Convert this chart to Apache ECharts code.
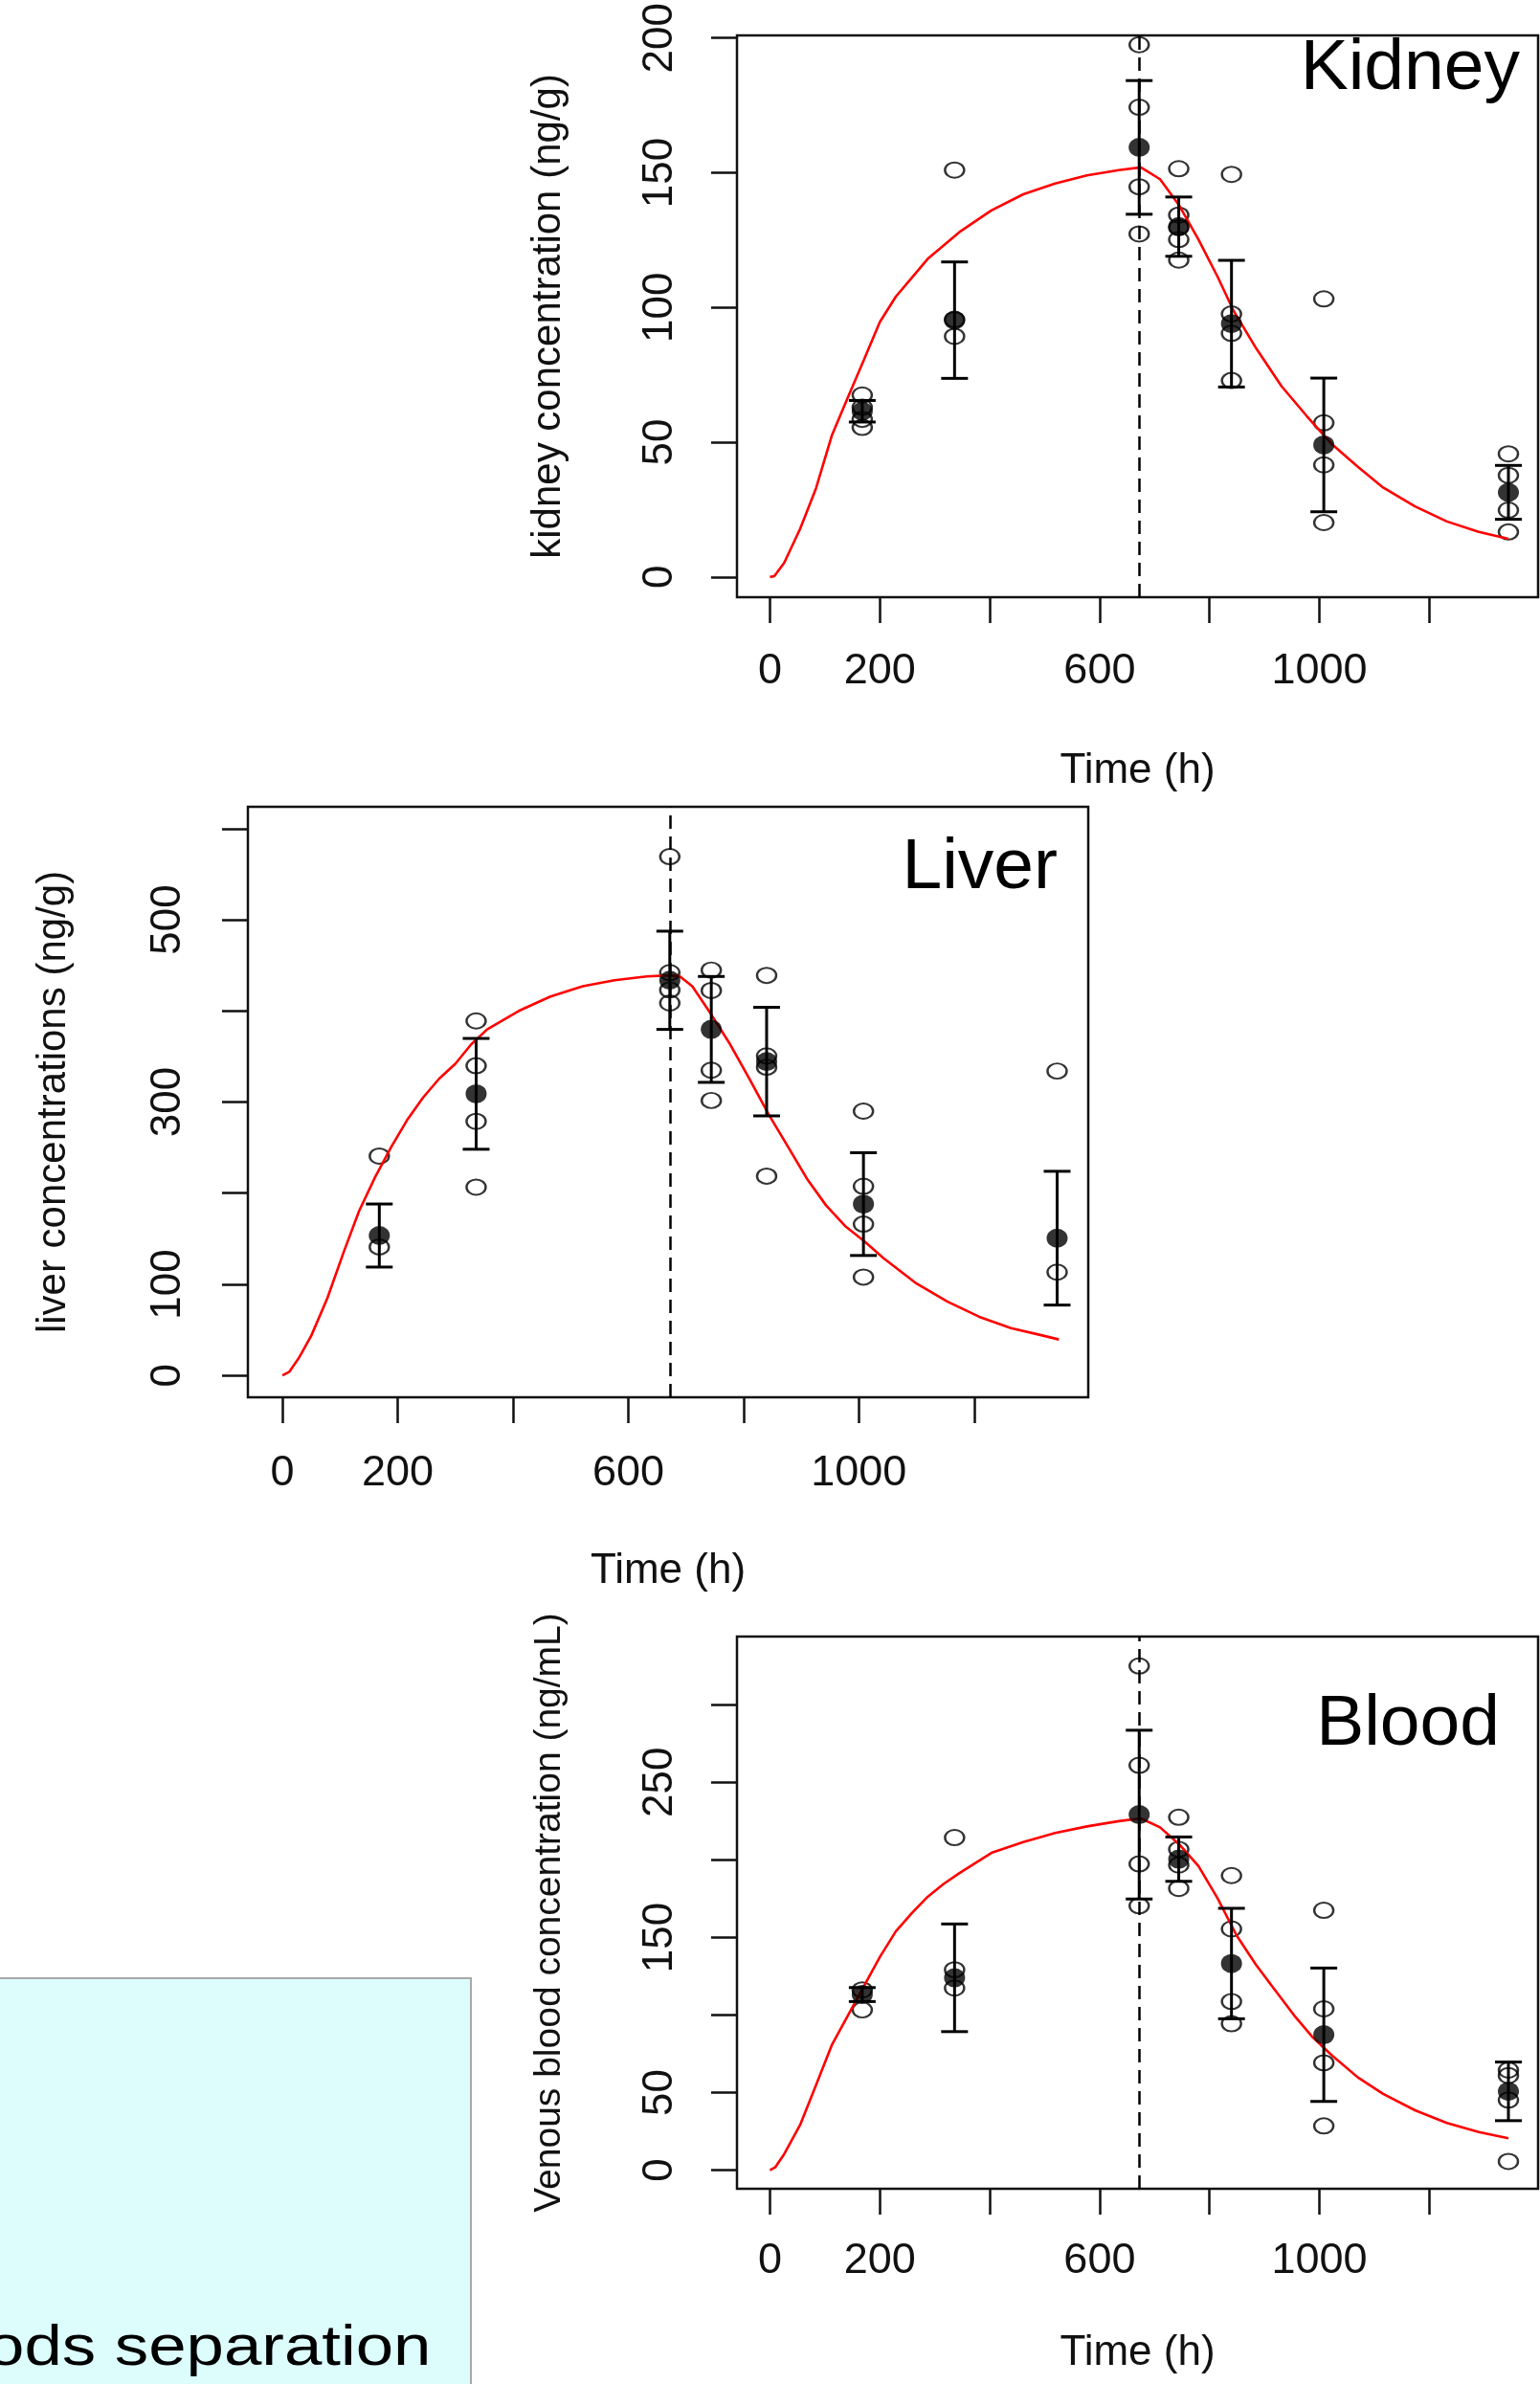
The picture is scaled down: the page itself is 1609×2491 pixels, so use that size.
<!DOCTYPE html>
<html>
<head>
<meta charset="utf-8">
<script src="https://cdn.jsdelivr.net/npm/echarts@6/dist/echarts.min.js"></script>
<style>
  html, body { margin: 0; padding: 0; background: #fff; }
  #chart { width: 1609px; height: 2491px; }
</style>
</head>
<body>
<div id="chart"></div>
<script>
// sampling times (h), shared by the three organs
var sampleTimes = [168, 336, 672, 744, 840, 1008, 1344];
var doseEndTime = 672;

// x axis ticks / labels (R style, overlapping labels dropped)
var timeTicks = [0, 200, 400, 600, 800, 1000, 1200];
var timeLabels = [0, 200, 600, 1000];

// ---- kidney ----
var kidneyObs = [
  [67.5, 63, 58.5, 55.5],
  [151, 95.5, 89.3],
  [197.5, 174.3, 144.8, 127.3],
  [151.5, 134.3, 129.7, 125.2, 117.6],
  [149.4, 97.6, 90.4, 72.9],
  [103.2, 57.2, 41.6, 20.2],
  [45.7, 37.7, 24.8, 16.7]
];
var kidneyMean = [61.5, 95.3, 159.4, 130, 94, 49, 31.4];
var kidneySd = [4, 21.6, 24.8, 11, 23.5, 24.8, 10];
var kidneyModelT = [0, 8, 26, 55, 84, 113, 142, 171, 200, 229, 258, 287, 316, 345, 403, 461, 519, 577, 635, 675,
  710, 745, 780, 815, 844, 885, 931, 977, 1023, 1070, 1116, 1174, 1232, 1290, 1344];
var kidneyModelC = [0, 0.3, 5.3, 17.9, 33, 52.7, 66.7, 80.6, 94.6, 104, 111, 118, 123, 128, 136, 142, 146, 149, 151, 152,
  147.6, 137.8, 125.2, 111.3, 98.7, 84.8, 70.8, 59.7, 49.2, 40.9, 33.2, 26.2, 20.6, 16.7, 14.2];
var kidneyYTicks = [0, 50, 100, 150, 200];
var kidneyYLabels = [0, 50, 100, 150, 200];

// ---- liver ----
var liverObs = [
  [240.7, 141],
  [389, 339.8, 278.8, 206.6],
  [569.3, 442, 423, 408.7],
  [444.8, 422.4, 334.9, 301.7],
  [439, 350.6, 338.2, 218.7],
  [290, 207.5, 166, 107.9],
  [334, 113.3]
];
var liverMean = [153.5, 309, 433.6, 379.7, 344.4, 188, 150.6];
var liverSd = [34.6, 60.8, 53.9, 58.1, 59.6, 56.4, 73.4];
var liverModelT = [0, 12, 28, 50, 78, 106, 133, 161, 189, 216, 244, 272, 300, 327, 355, 410, 465, 521, 576, 632, 670, 689,
  711, 744, 777, 810, 844, 877, 910, 943, 976, 1010, 1043, 1098, 1154, 1209, 1264, 1320, 1347];
var liverModelC = [0, 4, 18.7, 43.6, 85, 135, 180.5, 218, 251, 280, 305, 325.7, 342, 363, 379.7, 400, 415.8, 427, 433.6, 437.8, 439, 438,
  427, 396, 363, 325.7, 286, 251, 215.8, 186.7, 164, 147, 128.6, 101.7, 80.9, 64.3, 51.9, 43.6, 39.4];
var liverYTicks = [0, 100, 200, 300, 400, 500, 600];
var liverYLabels = [0, 100, 300, 500];

// ---- venous blood ----
var bloodObs = [
  [116.2, 103.3],
  [214.4, 129.2, 117.4],
  [325, 261, 197.4, 170.4],
  [227.5, 206.8, 196.7, 181.6],
  [189.9, 155.5, 108.7, 94.4],
  [167.5, 104, 69.2, 28.5],
  [64.5, 61, 45.2, 5.6]
];
var bloodMean = [113.2, 124, 229.2, 200.5, 133.2, 87.3, 50.8];
var bloodSd = [4.5, 34.7, 54.4, 14.3, 35.6, 43, 18.9];
var bloodModelT = [0, 10, 26, 55, 84, 113, 142, 171, 200, 229, 258, 287, 316, 345, 403, 461, 519, 577, 635, 675,
  710, 745, 780, 815, 849, 884, 919, 954, 988, 1023, 1070, 1116, 1174, 1232, 1290, 1344];
var bloodModelC = [0, 2, 10.4, 29.2, 55, 81, 99.8, 118.6, 137.4, 153.9, 165.6, 176.2, 184.5, 191.5, 204.5, 211.5, 217.4, 221.6, 225, 226.8,
  221, 210, 196, 175, 151.5, 132.7, 116.2, 99.8, 85.6, 73.9, 59.8, 49.2, 38.6, 30.4, 24.5, 20.5];
var bloodYTicks = [0, 50, 100, 150, 200, 250, 300];
var bloodYLabels = [0, 50, 150, 250];

var FONT = '"Liberation Sans", Arial, Helvetica, sans-serif';
var INK = '#111';

var panels = [
  { label: 'Kidney', yName: 'kidney concentration (ng/g)', obs: kidneyObs, mean: kidneyMean, sd: kidneySd,
    modelT: kidneyModelT, modelC: kidneyModelC, yTicks: kidneyYTicks, yLabels: kidneyYLabels,
    yMin: -7.5, yMax: 201,
    grid: { left: 770, top: 32, width: 837, height: 592 },
    xMargin: 55, yMargin: 58, xGap: 160, yGap: 176, yNameSize: 42,
    labelPos: [1588, 72] },
  { label: 'Liver', yName: 'liver concentrations (ng/g)', obs: liverObs, mean: liverMean, sd: liverSd,
    modelT: liverModelT, modelC: liverModelC, yTicks: liverYTicks, yLabels: liverYLabels,
    yMin: -24, yMax: 624,
    grid: { left: 259, top: 843, width: 878, height: 617 },
    xMargin: 57, yMargin: 61, xGap: 160, yGap: 182, yNameSize: 42,
    labelPos: [1105, 907] },
  { label: 'Blood', yName: 'Venous blood concentration (ng/mL)', obs: bloodObs, mean: bloodMean, sd: bloodSd,
    modelT: bloodModelT, modelC: bloodModelC, yTicks: bloodYTicks, yLabels: bloodYLabels,
    yMin: -12, yMax: 344,
    grid: { left: 770, top: 1710, width: 837, height: 577 },
    xMargin: 53, yMargin: 58, xGap: 150, yGap: 176, yNameSize: 39,
    labelPos: [1567, 1802] }
];

function errorBar(params, api) {
  var t = api.value(0), m = api.value(1), s = api.value(2);
  var hi = api.coord([t, m + s]);
  var lo = api.coord([t, m - s]);
  var hw = 14;
  var st = { stroke: '#000', lineWidth: 3 };
  return {
    type: 'group',
    children: [
      { type: 'line', shape: { x1: hi[0], y1: hi[1], x2: lo[0], y2: lo[1] }, style: st },
      { type: 'line', shape: { x1: hi[0] - hw, y1: hi[1], x2: hi[0] + hw, y2: hi[1] }, style: st },
      { type: 'line', shape: { x1: lo[0] - hw, y1: lo[1], x2: lo[0] + hw, y2: lo[1] }, style: st }
    ]
  };
}

function plain(v) { return String(v); }

var grids = [], xAxes = [], yAxes = [], series = [], graphics = [];

panels.forEach(function (p, i) {
  grids.push({
    left: p.grid.left, top: p.grid.top, width: p.grid.width, height: p.grid.height,
    show: true, borderColor: INK, borderWidth: 2.5, backgroundColor: 'transparent'
  });
  xAxes.push({
    gridIndex: i, type: 'value', min: -60, max: 1398,
    name: 'Time (h)', nameLocation: 'middle', nameGap: p.xGap,
    nameTextStyle: { fontSize: 44, color: INK, fontFamily: FONT },
    axisLine: { show: false, onZero: false },
    axisTick: { show: true, inside: false, length: 27, customValues: timeTicks, lineStyle: { color: INK, width: 2.5 } },
    axisLabel: { customValues: timeLabels, formatter: plain, margin: p.xMargin, fontSize: 45, color: INK, fontFamily: FONT },
    splitLine: { show: false }
  });
  yAxes.push({
    gridIndex: i, type: 'value', min: p.yMin, max: p.yMax,
    name: p.yName, nameLocation: 'middle', nameGap: p.yGap,
    nameTextStyle: { fontSize: p.yNameSize, color: INK, fontFamily: FONT },
    axisLine: { show: false, onZero: false },
    axisTick: { show: true, inside: false, length: 27, customValues: p.yTicks, lineStyle: { color: INK, width: 2.5 } },
    axisLabel: { customValues: p.yLabels, formatter: plain, rotate: 90, margin: p.yMargin, fontSize: 44, color: INK, fontFamily: FONT },
    splitLine: { show: false }
  });

  var obsPts = [];
  p.obs.forEach(function (vals, k) {
    vals.forEach(function (v) { obsPts.push([sampleTimes[k], v]); });
  });

  series.push({
    type: 'scatter', xAxisIndex: i, yAxisIndex: i, data: obsPts,
    symbol: 'circle', symbolSize: [20, 16], z: 3,
    itemStyle: { color: 'transparent', borderColor: '#000', borderWidth: 2.2 }
  });
  series.push({
    type: 'line', xAxisIndex: i, yAxisIndex: i,
    data: p.modelT.map(function (t, k) { return [t, p.modelC[k]]; }),
    showSymbol: false, symbol: 'none', z: 4,
    lineStyle: { color: '#ff0000', width: 2.6 },
    markLine: {
      silent: true, symbol: ['none', 'none'], label: { show: false },
      lineStyle: { color: '#000', type: [14, 8], width: 2.5 },
      data: [{ xAxis: doseEndTime }]
    }
  });
  series.push({
    type: 'custom', xAxisIndex: i, yAxisIndex: i, z: 5,
    data: sampleTimes.map(function (t, k) { return [t, p.mean[k], p.sd[k]]; }),
    encode: { x: 0, y: 1 },
    renderItem: errorBar
  });
  series.push({
    type: 'scatter', xAxisIndex: i, yAxisIndex: i, z: 6,
    data: sampleTimes.map(function (t, k) { return [t, p.mean[k]]; }),
    symbol: 'circle', symbolSize: [22, 20],
    itemStyle: { color: '#000' }
  });

  graphics.push({
    type: 'text', x: p.labelPos[0], y: p.labelPos[1], z: 10,
    style: { text: p.label, fontSize: 75, fontFamily: FONT, fill: '#000', textAlign: 'right', textVerticalAlign: 'middle' }
  });
});

// pale cyan text box cut off at the lower left
graphics.push({
  type: 'rect', z: 1,
  shape: { x: -5, y: 2067, width: 497, height: 440 },
  style: { fill: '#ddfdfd', stroke: '#a8a8a8', lineWidth: 2 }
});
graphics.push({
  type: 'text', x: -14, y: 2484, scaleX: 1.18, z: 2,
  style: { text: 'ods separation', fontSize: 60, fontFamily: FONT, fill: '#000', textAlign: 'left', textVerticalAlign: 'bottom' }
});

var chart = echarts.init(document.getElementById('chart'));
chart.setOption({
  animation: false,
  backgroundColor: '#fff',
  grid: grids,
  xAxis: xAxes,
  yAxis: yAxes,
  series: series,
  graphic: graphics
});
</script>
</body>
</html>
